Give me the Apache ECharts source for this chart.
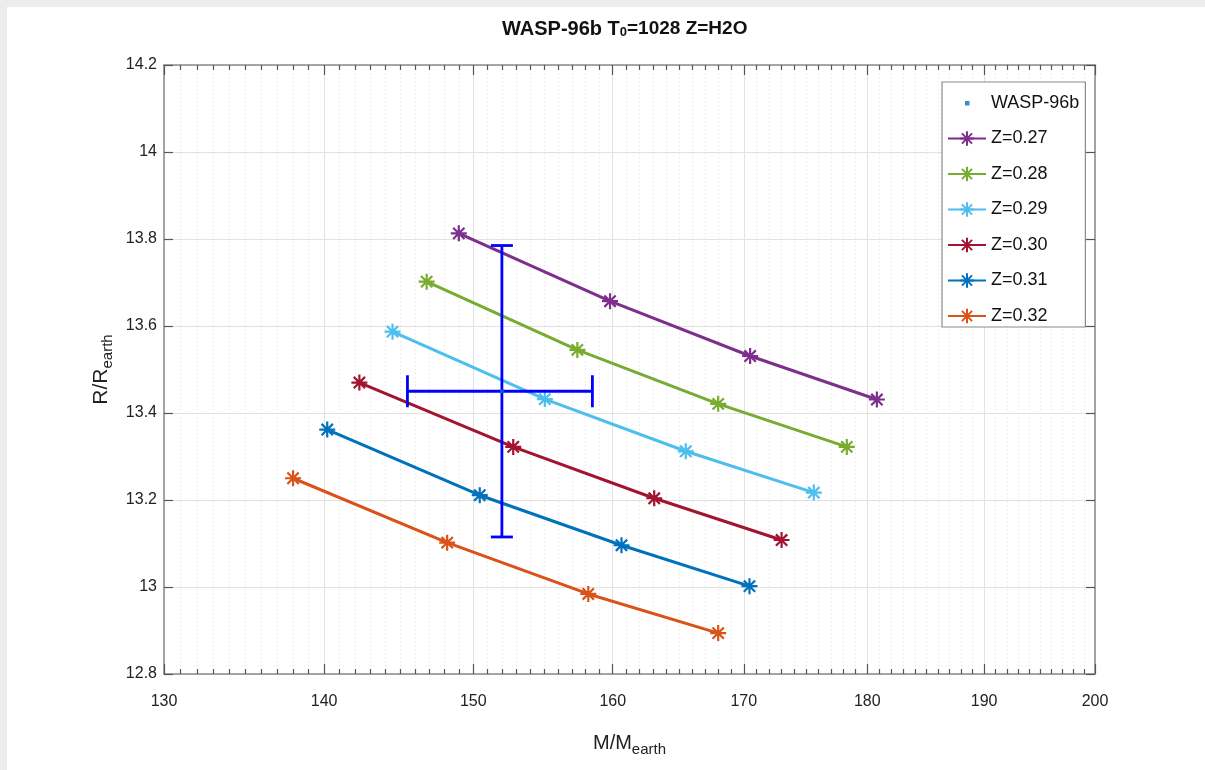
<!DOCTYPE html>
<html>
<head>
<meta charset="utf-8">
<script src="https://cdn.jsdelivr.net/npm/echarts@6/dist/echarts.min.js"></script>
<style>html,body{margin:0;padding:0;background:#fff}#c{width:1205px;height:770px}</style>
</head>
<body>
<div id="c"></div>
<script>
// ---- data ----
const seriesNames = ['Z=0.27', 'Z=0.28', 'Z=0.29', 'Z=0.30', 'Z=0.31', 'Z=0.32'];
const seriesColors = ['#7E2F8E', '#77AC30', '#4DBEEE', '#A2142F', '#0072BD', '#D95319'];
const massZ027 = [149.0, 159.8, 170.5, 180.8];
const radiusZ027 = [13.813, 13.657, 13.531, 13.431];
const massZ028 = [146.8, 157.4, 168.0, 178.3];
const radiusZ028 = [13.702, 13.545, 13.421, 13.322];
const massZ029 = [144.5, 155.05, 165.5, 175.6];
const radiusZ029 = [13.587, 13.432, 13.312, 13.217];
const massZ030 = [142.3, 152.8, 163.1, 173.0];
const radiusZ030 = [13.470, 13.322, 13.204, 13.108];
const massZ031 = [140.2, 150.45, 160.65, 170.45];
const radiusZ031 = [13.362, 13.211, 13.096, 13.002];
const massZ032 = [138.0, 148.2, 158.2, 168.0];
const radiusZ032 = [13.250, 13.102, 12.984, 12.894];
const planetName = 'WASP-96b';
const planetMass = 152.0, planetMassErr = 6.5;
const planetRadius = 13.45, planetRadiusErr = 0.335;
const xTickLabels = [130, 140, 150, 160, 170, 180, 190, 200];
const yMin = 12.8, yMax = 14.2, yStep = 0.2;

const masses = [massZ027, massZ028, massZ029, massZ030, massZ031, massZ032];
const radii = [radiusZ027, radiusZ028, radiusZ029, radiusZ030, radiusZ031, radiusZ032];
const xMinorTicks = [];
for (let v = xTickLabels[0] + 1; v < xTickLabels[xTickLabels.length - 1]; v++) {
  if (xTickLabels.indexOf(v) < 0) xMinorTicks.push(v);
}

const FONT = '"Liberation Sans", Arial, sans-serif';
const starPath = 'path://M10,0L10,20M0,10L20,10M2.93,2.93L17.07,17.07M2.93,17.07L17.07,2.93';
const dotIcon = 'path://M0,0L0.01,0M38,18L37.99,18M17,7L21.5,7L21.5,11.5L17,11.5Z';

function xAxisDef(pos, ticks, len, withLabels, withLine, splitStyle) {
  return {
    type: 'log', logBase: 10, position: pos, min: 130, max: 200,
    axisLine: { show: withLine, lineStyle: { color: '#8a8a8a', width: 1.5 } },
    axisTick: { show: true, inside: true, length: len, customValues: ticks,
                lineStyle: { color: '#555', width: 1.2 } },
    axisLabel: withLabels ? { show: true, customValues: ticks, margin: 20,
                color: '#222', fontSize: 16, fontFamily: FONT } : { show: false },
    splitLine: splitStyle ? { show: true, lineStyle: splitStyle } : { show: false },
    minorTick: { show: false }, minorSplitLine: { show: false }
  };
}

const lineSeries = seriesNames.map((name, i) => ({
  name: name, type: 'line', xAxisIndex: 0, yAxisIndex: 0,
  data: masses[i].map((m, j) => [m, radii[i][j]]),
  symbol: starPath, symbolSize: 16, symbolKeepAspect: true,
  lineStyle: { color: seriesColors[i], width: 3 },
  itemStyle: { color: seriesColors[i], borderColor: seriesColors[i], borderWidth: 2.2 },
  z: 3, animation: false
}));

const option = {
  backgroundColor: '#ffffff',
  animation: false,
  graphic: [
    { type: 'rect', shape: { x: 0, y: 0, width: 1205, height: 7 }, style: { fill: '#ececec' }, silent: true },
    { type: 'rect', shape: { x: 0, y: 0, width: 7, height: 770 }, style: { fill: '#ececec' }, silent: true }
  ],
  title: {
    text: 'WASP-96b T{s|0}{m|=1028 Z=H2O}',
    left: 497, top: 14,
    textStyle: {
      fontFamily: FONT, fontWeight: 'bold', fontSize: 20, color: '#111',
      rich: {
        s: { fontFamily: FONT, fontWeight: 'bold', fontSize: 13, lineHeight: 13, padding: [16, 0, 0, 0], verticalAlign: 'bottom', color: '#111' },
        m: { fontFamily: FONT, fontWeight: 'bold', fontSize: 19, color: '#111' }
      }
    }
  },
  grid: { left: 164, right: 110, top: 65, bottom: 96, containLabel: false },
  legend: {
    orient: 'vertical', left: 942, top: 82,
    itemWidth: 38, itemHeight: 18, itemGap: 15.5,
    padding: [11, 6, 1, 5],
    backgroundColor: '#ffffff', borderColor: '#8a8a8a', borderWidth: 1.2,
    textStyle: { fontFamily: FONT, fontSize: 18, color: '#111', lineHeight: 20 },
    data: [{ name: planetName, icon: dotIcon, itemStyle: { color: '#0072BD', borderWidth: 0 } }].concat(seriesNames),
    z: 10
  },
  xAxis: [
    Object.assign(xAxisDef('bottom', xTickLabels, 10, true, true, { color: '#e2e2e2', width: 1 }), {
      name: 'M/M{s|earth}', nameLocation: 'middle', nameGap: 58,
      nameTextStyle: {
        fontFamily: FONT, fontSize: 20, color: '#222', lineHeight: 22, verticalAlign: 'top',
        rich: { s: { fontFamily: FONT, fontSize: 15, lineHeight: 15, padding: [13, 0, 0, 0], color: '#222' } }
      }
    }),
    xAxisDef('bottom', xMinorTicks, 5, false, false, { color: '#dedede', width: 1, type: [1, 3] }),
    xAxisDef('top', xTickLabels, 10, false, true, null),
    xAxisDef('top', xMinorTicks, 5, false, false, null)
  ],
  yAxis: [
    {
      type: 'value', position: 'left', min: yMin, max: yMax, interval: yStep,
      axisLine: { show: true, lineStyle: { color: '#8a8a8a', width: 1.5 } },
      axisTick: { show: true, inside: true, length: 9, lineStyle: { color: '#555', width: 1.2 } },
      axisLabel: { margin: 7, color: '#222', fontSize: 16, fontFamily: FONT },
      splitLine: { show: true, lineStyle: { color: '#e2e2e2', width: 1 } },
      name: 'R/R{s|earth}', nameLocation: 'middle', nameGap: 49, nameRotate: 90,
      nameTextStyle: {
        fontFamily: FONT, fontSize: 21, color: '#222', lineHeight: 22, verticalAlign: 'top',
        rich: { s: { fontFamily: FONT, fontSize: 15, lineHeight: 15, padding: [12, 0, 0, 0], color: '#222' } }
      }
    },
    {
      type: 'value', position: 'right', min: yMin, max: yMax, interval: yStep,
      axisLine: { show: true, lineStyle: { color: '#8a8a8a', width: 1.5 } },
      axisTick: { show: true, inside: true, length: 9, lineStyle: { color: '#555', width: 1.2 } },
      axisLabel: { show: false },
      splitLine: { show: false }
    }
  ],
  series: [
    {
      name: planetName, type: 'scatter', xAxisIndex: 0, yAxisIndex: 0,
      data: [[planetMass, planetRadius]], symbol: 'rect', symbolSize: 4,
      itemStyle: { color: '#0072BD' }, z: 6
    },
    {
      name: 'errorbar', type: 'custom', xAxisIndex: 0, yAxisIndex: 0,
      data: [[planetMass, planetRadius, planetMass - planetMassErr, planetMass + planetMassErr,
              planetRadius - planetRadiusErr, planetRadius + planetRadiusErr]],
      encode: { x: [0, 2, 3], y: [1, 4, 5] },
      z: 5,
      renderItem: function (params, api) {
        const l = api.coord([api.value(2), api.value(1)]);
        const r = api.coord([api.value(3), api.value(1)]);
        const b = api.coord([api.value(0), api.value(4)]);
        const t = api.coord([api.value(0), api.value(5)]);
        const capH = 16, capW = 11;
        const st = { stroke: '#0000FF', lineWidth: 2.8, fill: null };
        return {
          type: 'group', children: [
            { type: 'line', shape: { x1: l[0], y1: l[1], x2: r[0], y2: r[1] }, style: st },
            { type: 'line', shape: { x1: t[0], y1: t[1], x2: b[0], y2: b[1] }, style: st },
            { type: 'line', shape: { x1: l[0], y1: l[1] - capH, x2: l[0], y2: l[1] + capH }, style: st },
            { type: 'line', shape: { x1: r[0], y1: r[1] - capH, x2: r[0], y2: r[1] + capH }, style: st },
            { type: 'line', shape: { x1: t[0] - capW, y1: t[1], x2: t[0] + capW, y2: t[1] }, style: st },
            { type: 'line', shape: { x1: b[0] - capW, y1: b[1], x2: b[0] + capW, y2: b[1] }, style: st }
          ]
        };
      }
    }
  ].concat(lineSeries)
};

const chart = echarts.init(document.getElementById('c'), null, { renderer: 'canvas' });
chart.setOption(option);
</script>
</body>
</html>
